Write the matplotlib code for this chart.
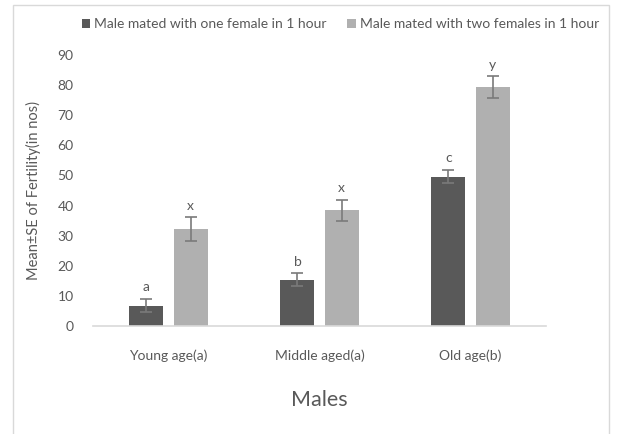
import matplotlib
matplotlib.use("Agg")
import matplotlib.pyplot as plt
import numpy as np
from matplotlib.patches import Rectangle

categories = ["Young age(a)", "Middle aged(a)", "Old age(b)"]
series_names = ["Male mated with one female in 1 hour",
                "Male mated with two females in 1 hour"]
one_female = [6.8, 15.4, 49.6]
one_female_se = [2.3, 2.1, 2.2]
two_females = [32.2, 38.4, 79.3]
two_females_se = [3.9, 3.6, 3.7]
letters_one = ["a", "b", "c"]
letters_two = ["x", "x", "y"]
y_ticks = [0, 10, 20, 30, 40, 50, 60, 70, 80, 90]

plt.rcParams["font.family"] = ["Lato", "DejaVu Sans"]
text_color = "#595959"

fig = plt.figure(figsize=(6.19, 4.34), dpi=100)
fig.patches.append(Rectangle((13 / 619, -0.05), (609 - 13) / 619, 1 - 5 / 434 + 0.05,
                             transform=fig.transFigure, fill=False,
                             edgecolor="#d9d9d9", linewidth=1.0))

ax = fig.add_axes([93 / 619, 1 - 326 / 434, (546 - 93) / 619, (326 - 55) / 434])
x = np.arange(len(categories))
width = 0.225
offset = 0.146

b1 = ax.bar(x - offset, one_female, width, color="#595959", label=series_names[0],
            yerr=one_female_se, error_kw=dict(ecolor="#7a7a7a", elinewidth=1.2,
                                              capsize=4, capthick=1.2))
b2 = ax.bar(x + offset, two_females, width, color="#b0b0b0", label=series_names[1],
            yerr=two_females_se, error_kw=dict(ecolor="#7a7a7a", elinewidth=1.2,
                                               capsize=4, capthick=1.2))

for xi, v, se, t in zip(x - offset, one_female, one_female_se, letters_one):
    ax.annotate(t, (xi, v + se), xytext=(0, 4), textcoords="offset points",
                ha="center", va="bottom", fontsize=10, color=text_color)
for xi, v, se, t in zip(x + offset, two_females, two_females_se, letters_two):
    ax.annotate(t, (xi, v + se), xytext=(0, 4), textcoords="offset points",
                ha="center", va="bottom", fontsize=10, color=text_color)

ax.set_xlim(-0.5, 2.5)
ax.set_ylim(0, 90)
ax.set_yticks(y_ticks)
ax.set_xticks(x)
ax.set_xticklabels(categories)
ax.tick_params(axis="both", length=0, labelsize=10, colors=text_color)
ax.tick_params(axis="y", pad=14)
ax.tick_params(axis="x", pad=17)
for s in ["top", "right", "left"]:
    ax.spines[s].set_visible(False)
ax.spines["bottom"].set_color("#d9d9d9")
ax.spines["bottom"].set_linewidth(1.2)

ax.set_ylabel("Mean±SE of Fertility(in nos)", fontsize=10.5, color=text_color, labelpad=12)
ax.set_xlabel("Males", fontsize=15.5, color=text_color, labelpad=20)

fig.legend(handles=[b1, b2], loc="center", bbox_to_anchor=(0.55, 1 - 24 / 434),
           ncol=2, frameon=False, fontsize=10, labelcolor=text_color,
           handlelength=0.6, handleheight=0.6, handletextpad=0.3, columnspacing=1.5)

fig.savefig("out.png", dpi=100)
